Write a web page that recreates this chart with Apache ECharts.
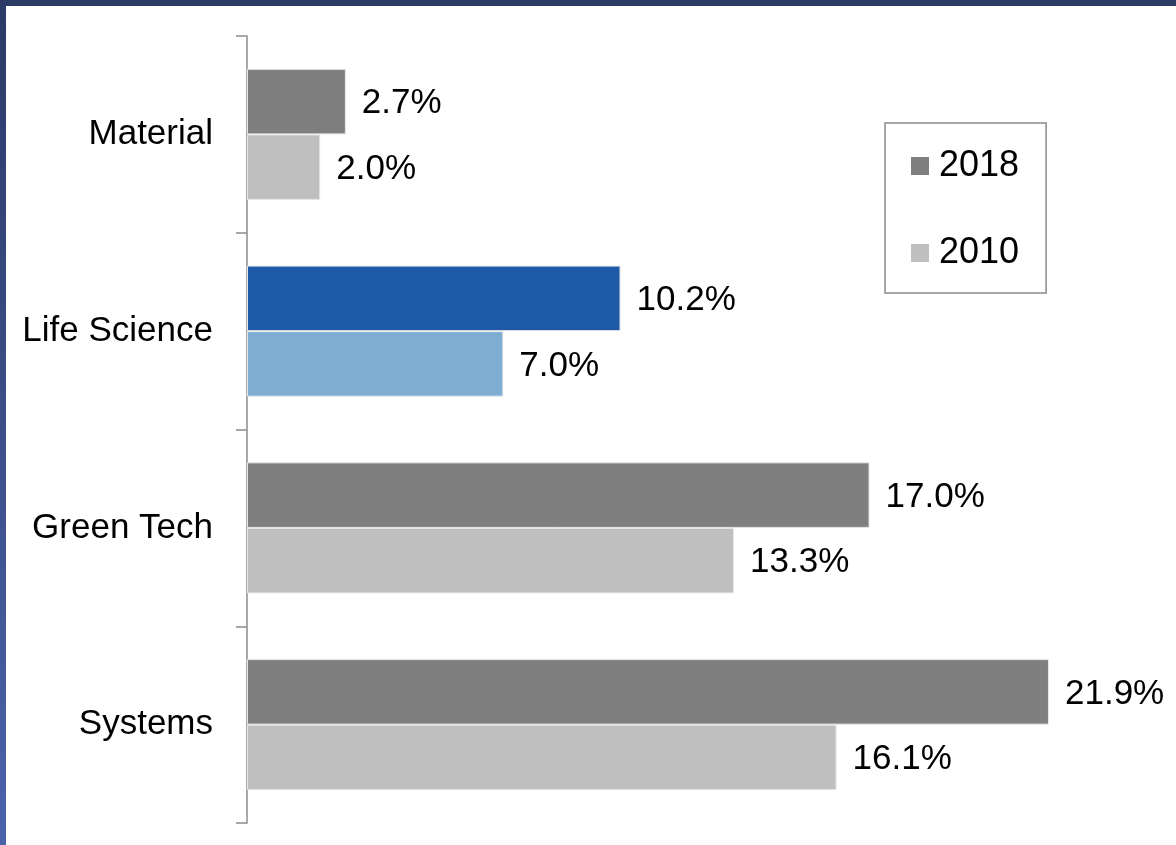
<!DOCTYPE html>
<html>
<head>
<meta charset="utf-8">
<style>
  html, body { margin: 0; padding: 0; background: #ffffff; }
  #chart { width: 1176px; height: 845px; }
</style>
<script src="https://cdn.jsdelivr.net/npm/echarts@6/dist/echarts.min.js"></script>
</head>
<body>
<div id="chart"></div>
<script>
// Sector shares, 2018 vs 2010 (percent)
const categories = ['Material', 'Life Science', 'Green Tech', 'Systems'];
const values2018 = [2.7, 10.2, 17.0, 21.9];
const values2010 = [2.0, 7.0, 13.3, 16.1];
const seriesNames = ['2018', '2010'];
const highlighted = 'Life Science';

const FONT = '"Liberation Sans", Arial, sans-serif';
const baseColors = { '2018': '#7f7f7f', '2010': '#bfbfbf' };
const highlightColors = { '2018': '#1f5aa9', '2010': '#7eadd4' };

function buildData(values, name) {
  return values.map((v, i) => ({
    value: v,
    itemStyle: {
      color: categories[i] === highlighted ? highlightColors[name] : baseColors[name]
    }
  }));
}

const chart = echarts.init(document.getElementById('chart'), null, { renderer: 'canvas' });

const labelStyle = {
  show: true,
  position: 'right',
  distance: 16,
  offset: [0, 2],
  fontFamily: FONT,
  fontSize: 35,
  color: '#000000',
  formatter: p => p.value.toFixed(1) + '%'
};

chart.setOption({
  backgroundColor: '#ffffff',
  animation: false,
  textStyle: { fontFamily: FONT },
  graphic: [
    {
      type: 'rect',
      shape: { x: 0, y: 0, width: 1176, height: 6 },
      style: { fill: '#2c3a66' },
      silent: true
    },
    {
      type: 'rect',
      shape: { x: 0, y: 0, width: 6, height: 845 },
      style: {
        fill: new echarts.graphic.LinearGradient(0, 0, 0, 1, [
          { offset: 0, color: '#2c3a66' },
          { offset: 1, color: '#4b63ab' }
        ])
      },
      silent: true
    }
  ],
  legend: {
    orient: 'vertical',
    left: 885,
    top: 123,
    padding: [25, 27, 22, 26],
    itemGap: 51,
    itemWidth: 18,
    itemHeight: 18,
    icon: 'rect',
    borderColor: '#8a8a8a',
    borderWidth: 1.5,
    borderRadius: 0,
    itemStyle: { borderWidth: 0 },
    data: seriesNames.map(n => ({ name: n, itemStyle: { color: baseColors[n], borderWidth: 0 } })),
    textStyle: {
      fontFamily: FONT,
      fontSize: 36,
      color: '#000000',
      lineHeight: 36,
      padding: [0, 0, 0, 5]
    }
  },
  grid: {
    left: 247,
    right: 13.5,
    top: 36,
    bottom: 22,
    containLabel: false
  },
  xAxis: {
    type: 'value',
    min: 0,
    max: 25,
    show: false
  },
  yAxis: {
    type: 'category',
    data: categories,
    inverse: true,
    axisLine: { show: true, lineStyle: { color: '#8c8c8c', width: 1.5 } },
    axisTick: { show: true, length: 11, lineStyle: { color: '#8c8c8c', width: 1.5 } },
    axisLabel: {
      margin: 34,
      fontFamily: FONT,
      fontSize: 35,
      color: '#000000'
    },
    splitLine: { show: false }
  },
  series: [
    {
      name: '2018',
      type: 'bar',
      data: buildData(values2018, '2018'),
      barGap: '0%',
      barCategoryGap: '33.4%',
      itemStyle: { borderColor: '#e8e8e8', borderWidth: 1 },
      label: labelStyle
    },
    {
      name: '2010',
      type: 'bar',
      data: buildData(values2010, '2010'),
      barGap: '0%',
      barCategoryGap: '33.4%',
      itemStyle: { borderColor: '#e8e8e8', borderWidth: 1 },
      label: labelStyle
    }
  ]
});
</script>
</body>
</html>
